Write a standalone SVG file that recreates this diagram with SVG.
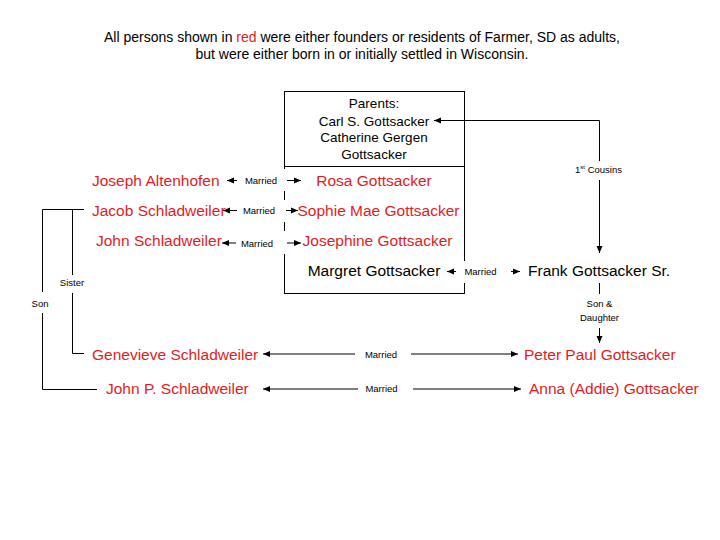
<svg xmlns="http://www.w3.org/2000/svg" width="720" height="540" viewBox="0 0 720 540">
<style>
  text { font-family: "Liberation Sans", Arial, sans-serif; fill: #000; }
  .title { font-size: 14px; text-anchor: middle; }
  .red { fill: #e31b23; }
  .name { font-size: 15.5px; }
  .box { font-size: 13.5px; text-anchor: middle; }
  .lbl { font-size: 9.5px; text-anchor: middle; }
  .ln { stroke: #000; stroke-width: 1; fill: none; }
  .arr { stroke: #000; stroke-width: 1; fill: none; marker-end: url(#ah); }
  .bg { fill: #fff; stroke: none; }
</style>
<defs>
  <marker id="ah" markerUnits="userSpaceOnUse" markerWidth="8" markerHeight="8" viewBox="0 0 8 8" refX="7" refY="4" orient="auto-start-reverse">
    <path d="M0,1 L7,4 L0,7 z" fill="#000"/>
  </marker>
</defs>
<rect width="720" height="540" fill="#fff"/>

<g id="title">
  <text class="title" x="362" y="42">All persons shown in <tspan class="red">red</tspan> were either founders or residents of Farmer, SD as adults,</text>
  <text class="title" x="362" y="59">but were either born in or initially settled in Wisconsin.</text>
</g>

<g id="family-box">
  <rect class="ln" x="284.5" y="91.5" width="180" height="202"/>
  <line class="ln" x1="284.5" y1="166.5" x2="464.5" y2="166.5"/>
</g>

<g id="parents">
  <text class="box" x="374" y="108">Parents:</text>
  <text class="box" x="374" y="125.5">Carl S. Gottsacker</text>
  <text class="box" x="374" y="142">Catherine Gergen</text>
  <text class="box" x="374" y="158.5">Gottsacker</text>
</g>

<g id="connectors">
  <!-- Married labels with white backgrounds (break the box edge) -->
  <rect class="bg" x="238" y="169" width="48" height="22"/>
  <text class="lbl" x="261" y="183.5">Married</text>
  <line class="arr" x1="237" y1="180.5" x2="227" y2="180.5"/>
  <line class="arr" x1="287" y1="180.5" x2="301" y2="180.5"/>

  <rect class="bg" x="238" y="200" width="48" height="22"/>
  <text class="lbl" x="259" y="214">Married</text>
  <line class="arr" x1="237" y1="210.5" x2="223" y2="210.5"/>
  <line class="arr" x1="286" y1="210.5" x2="298" y2="210.5"/>

  <rect class="bg" x="237" y="231" width="49" height="23"/>
  <text class="lbl" x="257" y="246.5">Married</text>
  <line class="arr" x1="236" y1="243" x2="222" y2="243"/>
  <line class="arr" x1="287" y1="243" x2="301" y2="243"/>

  <rect class="bg" x="457" y="261" width="53" height="22"/>
  <text class="lbl" x="480.5" y="275">Married</text>
  <line class="arr" x1="456" y1="271.5" x2="447" y2="271.5"/>
  <line class="arr" x1="511" y1="271.5" x2="520" y2="271.5"/>

  <!-- 1st Cousins -->
  <path class="ln" d="M599.5,253 V120.5 H434" marker-start="url(#ah)" marker-end="url(#ah)"/>
  <rect class="bg" x="572" y="161" width="54" height="19"/>
  <text class="lbl" x="598.5" y="172.5">1<tspan font-size="6" dy="-4">st</tspan><tspan dy="4"> Cousins</tspan></text>

  <!-- Son & Daughter -->
  <line class="arr" x1="599.5" y1="283" x2="599.5" y2="343"/>
  <rect class="bg" x="578" y="294" width="43" height="34"/>
  <text class="lbl" x="599.5" y="306.5">Son &amp;</text>
  <text class="lbl" x="599.5" y="321">Daughter</text>

  <!-- Son / Sister -->
  <path class="ln" d="M84,209.5 H42.5 V389.5 H97"/>
  <path class="ln" d="M72.5,209.5 V353.5 H84"/>
  <rect class="bg" x="58" y="275" width="28" height="18"/>
  <text class="lbl" x="72" y="286">Sister</text>
  <rect class="bg" x="30" y="292" width="21" height="21"/>
  <text class="lbl" x="40" y="307">Son</text>

  <!-- Bottom married -->
  <line class="arr" x1="355" y1="354" x2="263" y2="354"/>
  <text class="lbl" x="381" y="357.5">Married</text>
  <line class="arr" x1="411" y1="354" x2="518" y2="354"/>

  <line class="arr" x1="358" y1="389" x2="263" y2="389"/>
  <text class="lbl" x="381.5" y="392">Married</text>
  <line class="arr" x1="413" y1="389" x2="521" y2="389"/>
</g>

<g id="joseph-altenhofen"><text class="name red" x="92" y="186">Joseph Altenhofen</text></g>
<g id="rosa-gottsacker"><text class="name red" x="374" y="186" text-anchor="middle">Rosa Gottsacker</text></g>
<g id="jacob-schladweiler"><text class="name red" x="92" y="216">Jacob Schladweiler</text></g>
<g id="sophie-mae-gottsacker"><text class="name red" x="297.5" y="216">Sophie Mae Gottsacker</text></g>
<g id="john-schladweiler"><text class="name red" x="96" y="246">John Schladweiler</text></g>
<g id="josephine-gottsacker"><text class="name red" x="377.5" y="246" text-anchor="middle">Josephine Gottsacker</text></g>
<g id="margret-gottsacker"><text class="name" x="374" y="276" text-anchor="middle">Margret Gottsacker</text></g>
<g id="frank-gottsacker"><text class="name" x="528" y="276">Frank Gottsacker Sr.</text></g>
<g id="genevieve-schladweiler"><text class="name red" x="92" y="360">Genevieve Schladweiler</text></g>
<g id="peter-paul-gottsacker"><text class="name red" x="524" y="360">Peter Paul Gottsacker</text></g>
<g id="john-p-schladweiler"><text class="name red" x="106" y="394">John P. Schladweiler</text></g>
<g id="anna-gottsacker"><text class="name red" x="529" y="394">Anna (Addie) Gottsacker</text></g>
</svg>
